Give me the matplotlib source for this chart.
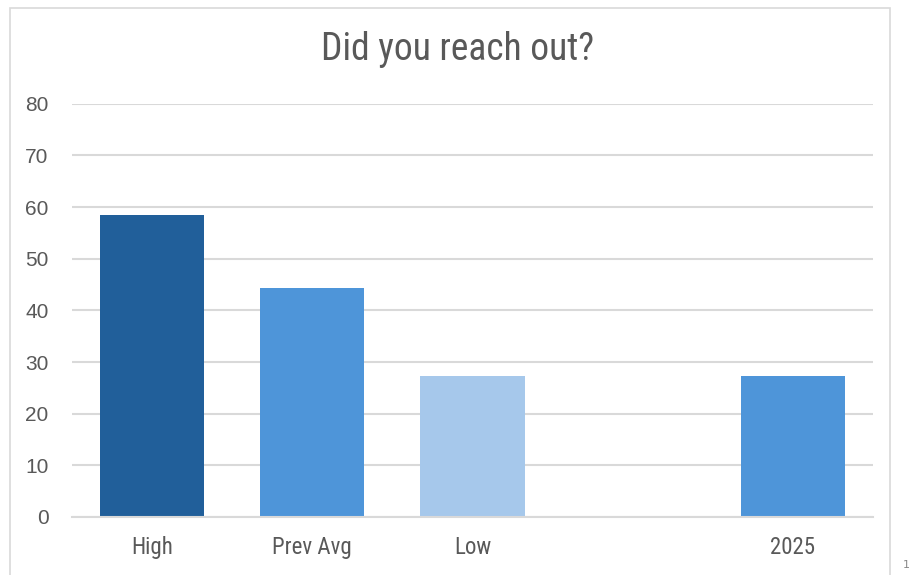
import matplotlib
matplotlib.use("Agg")
from matplotlib import pyplot as plt
from matplotlib import font_manager
from matplotlib.patches import Rectangle

categories = ["High", "Prev Avg", "Low", "", "2025"]
values = [58.5, 44.4, 27.3, 0, 27.3]
bar_colors = ["#215F9A", "#4E95D9", "#A6C8EB", "#FFFFFF", "#4E95D9"]
y_ticks = [0, 10, 20, 30, 40, 50, 60, 70, 80]

# pick a narrow face for title and category labels
names = {f.name for f in font_manager.fontManager.ttflist}
narrow = "Liberation Sans"
for cand in ["Liberation Sans Narrow", "Roboto Condensed", "DejaVu Sans Condensed",
             "Open Sans Condensed", "Noto Sans Condensed"]:
    if cand in names:
        narrow = cand
        break
narrow_stretch = "condensed"
text_color = "#595959"

fig = plt.figure(figsize=(9.09, 5.75), dpi=100)
ax = fig.add_axes([72 / 909, 1 - 517 / 575, 801 / 909, (517 - 103.7) / 575])

x = list(range(len(categories)))
ax.bar(x, values, width=0.65, color=bar_colors, zorder=3)

ax.set_xlim(-0.5, len(categories) - 0.5)
ax.set_ylim(0, 80)
ax.set_yticks(y_ticks)
ax.set_yticklabels([str(t) for t in y_ticks], fontfamily="Liberation Sans",
                   fontsize=15, color=text_color)
ax.set_xticks(x)
ax.set_xticklabels(categories, fontfamily=narrow, fontstretch=narrow_stretch,
                   fontsize=16.5, color=text_color)
ax.tick_params(axis="both", length=0)
ax.tick_params(axis="y", pad=17)
ax.tick_params(axis="x", pad=14)

for s in ["top", "right", "left"]:
    ax.spines[s].set_visible(False)
ax.spines["bottom"].set_color("#D9D9D9")
ax.spines["bottom"].set_linewidth(1.5)
ax.spines["bottom"].set_zorder(4)

ax.yaxis.grid(True, color="#D9D9D9", linewidth=1.5, zorder=0)
ax.set_axisbelow(True)

fig.text(0.503, 1 - 49 / 575, "Did you reach out?", ha="center", va="center",
         fontfamily=narrow, fontstretch=narrow_stretch, fontsize=27, color=text_color)

# chart frame
fig.patches.append(Rectangle((10 / 909, -0.05), 880 / 909, 1 - 8 / 575 + 0.05,
                             transform=fig.transFigure, fill=False,
                             edgecolor="#D9D9D9", linewidth=1.2))
fig.text(0.993, 1 - 565 / 575, "1", ha="left", va="center", fontsize=8, color="#888888")

fig.savefig("out.png", dpi=100)
